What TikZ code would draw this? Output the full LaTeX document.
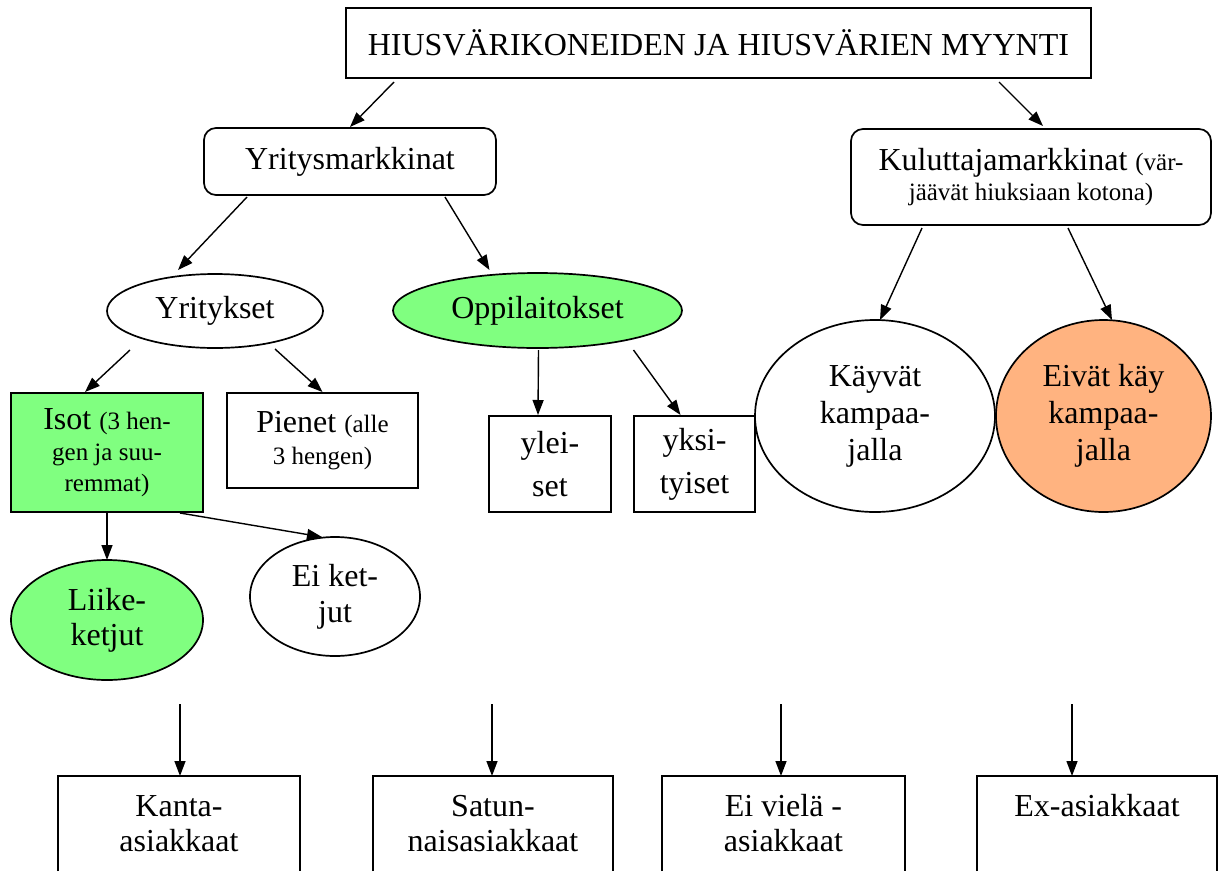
\documentclass[tikz,border=0pt]{standalone}
\usepackage{fontspec}
\setmainfont{Liberation Serif}
\usetikzlibrary{arrows.meta,shapes.geometric}
\definecolor{lgreen}{RGB}{128,255,128}
\definecolor{lorange}{RGB}{255,179,128}
\newcommand{\fs}[1]{\fontsize{32}{#1}\selectfont}
\newcommand{\smf}[1]{\fontsize{25}{#1}\selectfont}
\begin{document}
\begin{tikzpicture}[x=1pt,y=-1pt,
  box/.style={draw,line width=1.7pt,inner sep=0pt,outer sep=0pt,align=center,font=\fs{36}},
  rbox/.style={box,rounded corners=12pt},
  ell/.style={box,ellipse},
  open/.style={inner sep=0pt,outer sep=0pt,align=center,font=\fs{35},minimum height=95pt},
  edge/.style={line width=1.7pt},
  arr/.style={line width=1.4pt,-{Triangle[length=15pt,width=11pt]}},
]
\useasboundingbox (0,0) rectangle (1219,871);

% top level
\node[box,minimum width=745pt,minimum height=70pt] (top) at (718.5,43) {HIUSVÄRIKONEIDEN JA HIUSVÄRIEN MYYNTI};
\node[rbox,minimum width=292pt,minimum height=67pt] (yrm) at (350,161.5) {Yritysmarkkinat};
\node[rbox,minimum width=360pt,minimum height=96pt,font=\fs{30}] (kul) at (1031,177)
  {Kuluttajamarkkinat {\smf{30}(vär-}\\{\smf{30}jäävät hiuksiaan kotona)}};

% second level
\node[ell,minimum width=216pt,minimum height=74pt] (yrk) at (215,311) {Yritykset};
\node[ell,fill=lgreen,minimum width=289pt,minimum height=75pt] (opp) at (537.5,310.5) {Oppilaitokset};
\node[ell,minimum width=240pt,minimum height=192pt,font=\fs{37}] (kay) at (875,416) {Käyvät\\kampaa-\\jalla};
\node[ell,fill=lorange,minimum width=215pt,minimum height=192pt,font=\fs{37}] (eiv) at (1103.5,416) {Eivät käy\\kampaa-\\jalla};

% third level
\node[box,fill=lgreen,minimum width=192pt,minimum height=119pt,font=\fs{31}] (isot) at (107,452.5)
  {Isot {\smf{31}(3 hen-}\\{\smf{31}gen ja suu-}\\{\smf{31}remmat)}};
\node[box,minimum width=191pt,minimum height=95pt,font=\fs{32}] (pien) at (322.5,440.5)
  {Pienet {\smf{32}(alle}\\{\smf{32}3 hengen)}};
\node[box,minimum width=122pt,minimum height=96pt,font=\fs{43}] (ylei) at (550,464) {ylei-\\set};
\node[box,minimum width=121pt,minimum height=96pt,font=\fs{43}] (yksi) at (694.5,464) {yksi-\\tyiset};

% fourth level
\node[ell,fill=lgreen,minimum width=192pt,minimum height=120pt,font=\fs{35}] (liike) at (107,620) {Liike-\\ketjut};
\node[ell,minimum width=170pt,minimum height=119pt,font=\fs{36}] (eik) at (335,596.5) {Ei ket-\\jut};

% bottom boxes (open at the lower page edge)
\node[open,minimum width=242pt] (kanta) at (179,823.5) {Kanta-\\asiakkaat};
\node[open,minimum width=240pt] (satun) at (493,823.5) {Satun-\\naisasiakkaat};
\node[open,minimum width=243pt] (eivie) at (783.5,823.5) {Ei vielä -\\asiakkaat};
\node[open,minimum width=240pt] (exas) at (1097,823.5) {Ex-asiakkaat\\\phantom{asiakkaat}};
\foreach \n in {kanta,satun,eivie,exas}
  \draw[edge] (\n.south west) |- (\n.north east) -- (\n.south east);

% connectors
\draw[arr] ([shift={(48,4)}]top.south west) -- ([shift={(0,-1)}]yrm.north);
\draw[arr] ([shift={(-92,4)}]top.south east) -- ([shift={(12,-3)}]kul.north);
\draw[arr] ([shift={(43,2)}]yrm.south west) -- ([shift={(-37,-4)}]yrk.north);
\draw[arr] ([shift={(-51,2)}]yrm.south east) -- ([shift={(-48,-3)}]opp.north);
\draw[arr] ([shift={(-85,2)}]yrk.south) -- ([shift={(-22,-1)}]isot.north);
\draw[arr] ([shift={(60,1)}]yrk.south) -- ([shift={(0,-1)}]pien.north);
\draw[arr] ([shift={(1,2)}]opp.south) -- ([shift={(-12,-1)}]ylei.north);
\draw[arr] ([shift={(96,2)}]opp.south) -- ([shift={(-14,-1)}]yksi.north);
\draw[arr] ([shift={(-109,3)}]kul.south) -- ([shift={(5,0)}]kay.north);
\draw[arr] ([shift={(37,3)}]kul.south) -- ([shift={(8.5,0)}]eiv.north);
\draw[arr] (isot.south) -- (liike.north);
\draw[arr] ([shift={(-23,1)}]isot.south east) -- ([shift={(-13,0)}]eik.north);

% free arrows into the bottom boxes
\coordinate (f1) at ([shift={(1,-72)}]kanta.north);
\coordinate (f2) at ([shift={(-1,-72)}]satun.north);
\coordinate (f3) at ([shift={(-2.5,-72)}]eivie.north);
\coordinate (f4) at ([shift={(-25,-72)}]exas.north);
\draw[arr] (f1) -- ([shift={(1,0)}]kanta.north);
\draw[arr] (f2) -- ([shift={(-1,0)}]satun.north);
\draw[arr] (f3) -- ([shift={(-2.5,0)}]eivie.north);
\draw[arr] (f4) -- ([shift={(-25,0)}]exas.north);
\end{tikzpicture}
\end{document}
